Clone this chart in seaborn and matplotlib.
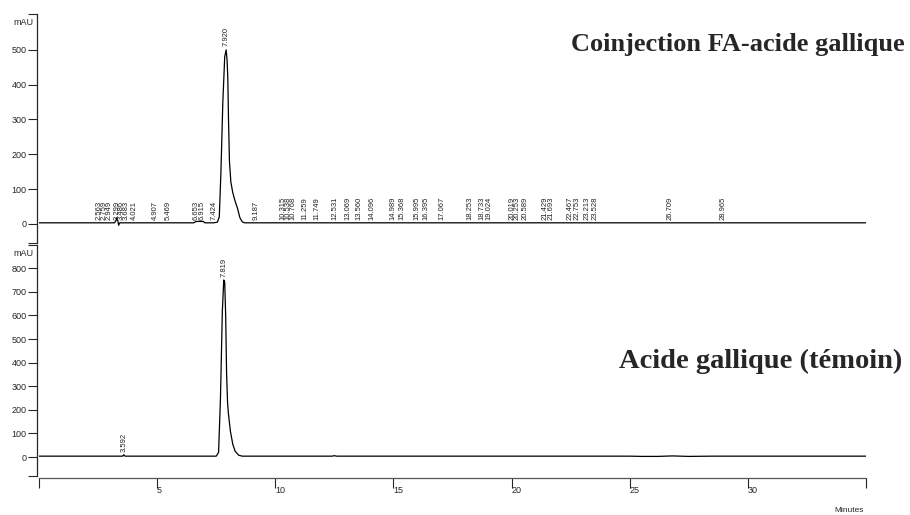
import numpy as np
import pandas as pd
import seaborn as sns
from matplotlib import pyplot as plt

# Chromatogram traces (time in min, signal in mAU)
coinj_time = [0.0, 2.5, 3.20, 3.26, 3.30, 3.34, 3.37, 3.42, 6.55, 6.62, 6.70, 6.95, 7.02,
              7.40, 7.55, 7.63, 7.70, 7.78, 7.86, 7.92, 7.96, 7.99, 8.02, 8.06, 8.12,
              8.20, 8.30, 8.40, 8.50, 8.60, 8.70, 35.0]
coinj_mau = [3, 3, 3, 10, 17, 8, -4, 3, 3, 6, 7, 7, 3,
             3, 5, 20, 150, 350, 480, 500, 470, 420, 300, 180, 120,
             90, 65, 45, 18, 6, 3, 3]

temoin_time = [0.0, 3.54, 3.59, 3.64, 7.50, 7.60, 7.68, 7.76, 7.82, 7.86, 7.90, 7.94,
               7.98, 8.02, 8.10, 8.20, 8.30, 8.45, 8.60, 12.40, 12.50, 12.60, 25.0,
               25.5, 26.2, 26.8, 27.5, 28.5, 35.0]
temoin_mau = [4, 4, 10, 4, 4, 20, 250, 620, 750, 740, 600, 350,
              230, 180, 110, 55, 25, 8, 4, 4, 6, 4, 4,
              3, 3, 5, 3, 4, 4]

# Peak retention-time labels
coinj_peaks = [2.563, 2.759, 2.949, 3.299, 3.486, 3.683, 4.021, 4.907, 5.469, 6.653,
               6.915, 7.424, 9.187, 10.315, 10.538, 10.768, 11.259, 11.749, 12.531,
               13.069, 13.560, 14.096, 14.989, 15.368, 15.995, 16.395, 17.067, 18.253,
               18.733, 19.024, 20.019, 20.253, 20.589, 21.429, 21.693, 22.467, 22.753,
               23.213, 23.528, 26.709, 28.965]
coinj_main = 7.920
temoin_peaks = [3.592]
temoin_main = 7.819

coinj_yticks = [0, 100, 200, 300, 400, 500]
temoin_yticks = [0, 100, 200, 300, 400, 500, 600, 700, 800]
x_ticks = [0, 5, 10, 15, 20, 25, 30, 35]
x_ticklabels = ['', '5', '10', '15', '20', '25', '30', '']

sns.set_style("white")
plt.rcParams['font.family'] = ['Liberation Sans', 'DejaVu Sans']

W, H = 910, 515
fig = plt.figure(figsize=(W / 100, H / 100), dpi=100)

def px_axes(x0, x1, ytop, ybot):
    return fig.add_axes([x0 / W, 1 - ybot / H, (x1 - x0) / W, (ybot - ytop) / H])

ax1 = px_axes(39, 866, 14, 243)
ax2 = px_axes(39, 866, 245, 476)

df1 = pd.DataFrame({'t': coinj_time, 'mAU': coinj_mau})
df2 = pd.DataFrame({'t': temoin_time, 'mAU': temoin_mau})
sns.lineplot(data=df1, x='t', y='mAU', ax=ax1, color='black', lw=0.9)
sns.lineplot(data=df2, x='t', y='mAU', ax=ax2, color='black', lw=0.9)

lims = [(-55, 603), (-80, 898)]
for ax, yt, lim in zip([ax1, ax2], [coinj_yticks, temoin_yticks], lims):
    ax.set_xlim(0, 35)
    ax.set_ylim(*lim)
    ax.set_xlabel('')
    ax.set_ylabel('')
    for s in ['top', 'right']:
        ax.spines[s].set_visible(False)
    ax.spines['left'].set_position(('outward', 1.5))
    ax.spines['left'].set_linewidth(0.9)
    ax.set_yticks([lim[0]] + yt + [lim[1]])
    ax.set_yticklabels([''] + [str(v) for v in yt] + [''])
    ax.tick_params(axis='y', direction='out', length=6.5, width=0.8, pad=1,
                   labelsize=6.5, left=True)
    ax.annotate('mAU', xy=(0, 1), xycoords='axes fraction', xytext=(-5, -8),
                textcoords='offset pixels', ha='right', va='center', fontsize=6.5)

ax1.spines['bottom'].set_visible(False)
ax1.set_xticks([])

ax2.spines['bottom'].set_position(('outward', 1.5))
ax2.spines['bottom'].set_color('#555555')
ax2.spines['bottom'].set_linewidth(0.9)
ax2.set_xticks(x_ticks)
ax2.set_xticklabels(x_ticklabels)
ax2.tick_params(axis='x', direction='out', length=7.5, width=0.8, pad=-1.5,
                labelsize=6.5, bottom=True)
for lbl in ax2.get_xticklabels():
    lbl.set_ha('left')

# Peak annotations
lab_kw = dict(rotation=90, ha='center', va='bottom', fontsize=5.5, color='#222222')
for t in coinj_peaks:
    ax1.text(t, 12, f'{t:.3f}', **lab_kw)
ax1.text(coinj_main, 510, f'{coinj_main:.3f}', **lab_kw)
for t in temoin_peaks:
    ax2.text(t, 20, f'{t:.3f}', **lab_kw)
ax2.text(temoin_main, 763, f'{temoin_main:.3f}', **lab_kw)

title_kw = dict(ha='right', va='center', fontweight='bold',
                family=['Liberation Serif', 'DejaVu Serif'])
fig.text(905 / W, 1 - 45 / H, 'Coinjection FA-acide gallique', fontsize=19, **title_kw)
fig.text(902 / W, 1 - 361 / H, 'Acide gallique (témoin)', fontsize=20.5, **title_kw)

fig.text(864 / W, 1 - 511 / H, 'Minutes', ha='right', va='center', fontsize=6)

plt.savefig('out.png', dpi=100)
